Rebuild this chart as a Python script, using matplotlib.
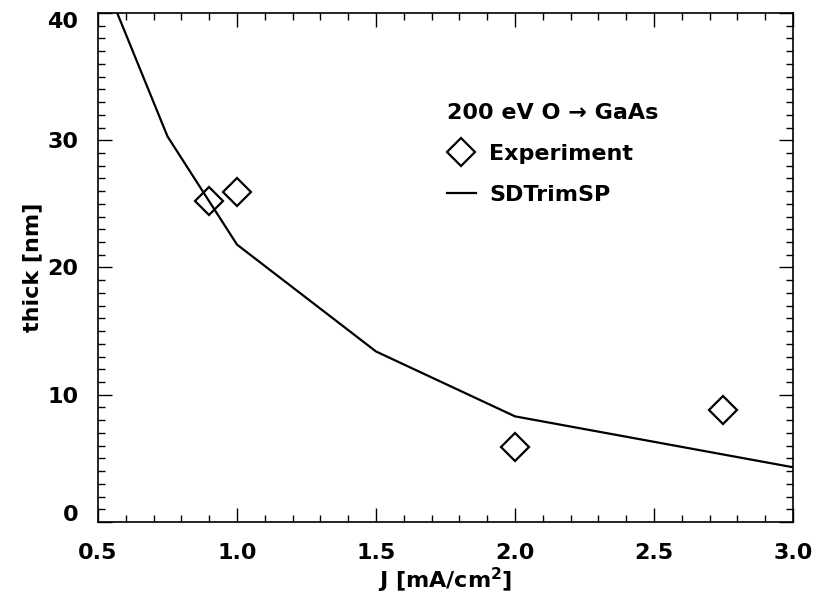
import matplotlib
matplotlib.use('Agg')
from matplotlib import pyplot as plt
from matplotlib.ticker import MultipleLocator, FixedLocator
from matplotlib.transforms import ScaledTranslation

# SDTrimSP simulacion
j_sim = [0.5, 0.75, 1.0, 1.5, 2.0, 3.0]
thick_sim = [43.7, 30.3, 21.8, 13.4, 8.3, 4.3]

# experimento
j_exp = [0.9, 1.0, 2.0, 2.75]
thick_exp = [25.2, 25.9, 5.9, 8.8]

y_ticks = [0, 10, 20, 30, 40]

plt.rcParams['font.family'] = ['DejaVu Sans']
plt.rcParams['font.weight'] = 'bold'

fig = plt.figure(figsize=(8.16, 6.04), dpi=100)
ax = fig.add_axes([0.1201, 0.1358, 0.9718 - 0.1201, 0.9785 - 0.1358])

ax.plot(j_exp, thick_exp, linestyle='none', marker='D', markersize=14.5,
        markerfacecolor='none', markeredgecolor='black', markeredgewidth=1.6,
        label='Experiment')
ax.plot(j_sim, thick_sim, color='black', linewidth=1.6, label='SDTrimSP')

ax.set_xlim(0.5, 3.0)
ax.set_ylim(0, 40)
ax.xaxis.set_major_locator(MultipleLocator(0.5))
ax.xaxis.set_minor_locator(MultipleLocator(0.1))
ax.yaxis.set_major_locator(FixedLocator(y_ticks))
ax.yaxis.set_minor_locator(MultipleLocator(1))
ax.xaxis.set_major_formatter(plt.FormatStrFormatter('%.1f'))
ax.tick_params(which='both', direction='in', top=True, right=True,
               labelsize=16, width=1)
ax.tick_params(which='major', length=10)
ax.tick_params(axis='x', which='major', pad=15)
ax.tick_params(axis='y', which='major', pad=14)
ax.tick_params(which='minor', length=5)
for s in ax.spines.values():
    s.set_linewidth(1.2)

ax.set_xlabel('J [mA/cm$^\\mathbf{2}$]', fontsize=16, fontweight='bold', labelpad=2)
ax.set_ylabel('thick [nm]', fontsize=16, fontweight='bold', labelpad=4)

leg = ax.legend(loc='upper left', bbox_to_anchor=(0.473, 0.863), frameon=False,
                title='200 eV O \u2192 GaAs', fontsize=16, title_fontsize=16,
                handlelength=1.3, handletextpad=0.6, labelspacing=0.95,
                alignment='left')
leg.get_title().set_fontweight('bold')

# etiquetas de los extremos corridas hacia adentro (despues de dibujar,
# para que no se copien a los demas ticks)
fig.canvas.draw()
for t in ax.yaxis.get_major_ticks():
    loc = t.get_loc()
    if loc == y_ticks[0]:
        dy = 9 / 100
    elif loc == y_ticks[-1]:
        dy = -7 / 100
    else:
        continue
    t.label1.set_transform(t.label1.get_transform() +
                           ScaledTranslation(0, dy, fig.dpi_scale_trans))

plt.savefig('out.png', dpi=100)
